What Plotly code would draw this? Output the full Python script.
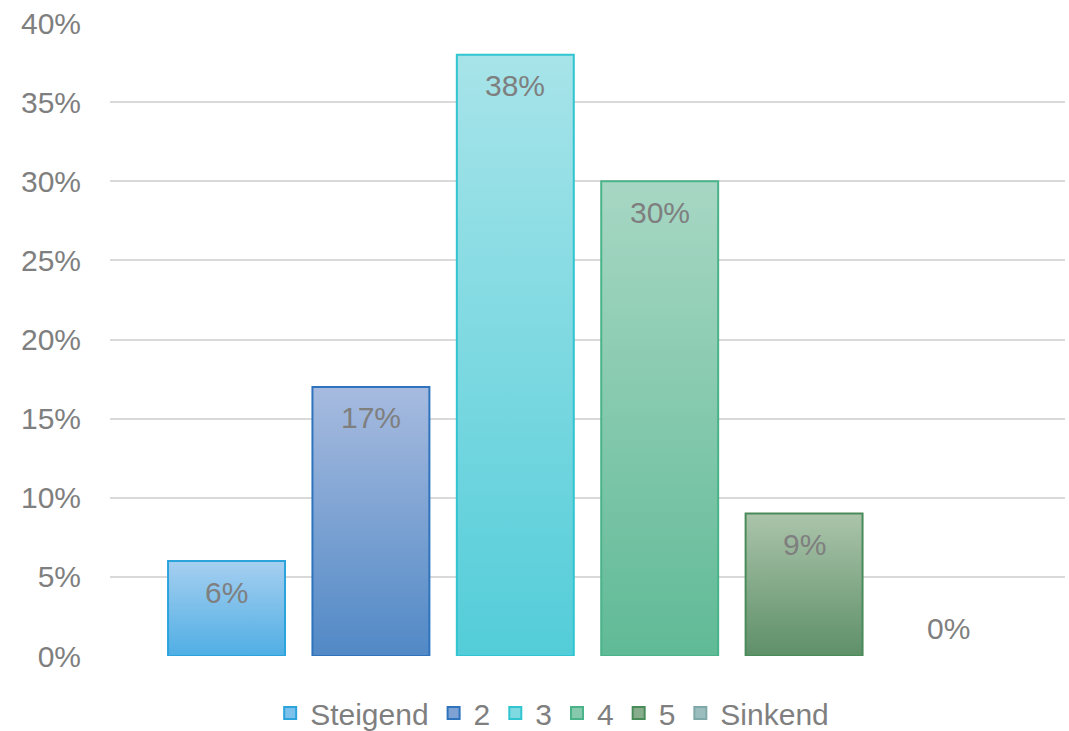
import plotly.graph_objects as go

# Survey answer distribution, scale from "Steigend" (rising) to "Sinkend" (falling)
series_names = ["Steigend", "2", "3", "4", "5", "Sinkend"]
shares_pct = [6, 17, 38, 30, 9, 0]

# gradient colours per series: (top, bottom, outline)
top_colors = ["#a6cff0", "#a7bbdf", "#a7e4e9", "#a7d7c4", "#abc4ab", "#b5cfcf"]
bottom_colors = ["#4faee4", "#5189c6", "#53cdd9", "#60ba96", "#5e9068", "#7fa8a8"]
legend_colors = ["#7cc0ec", "#7fa2d4", "#7fd9e1", "#86c9ad", "#88ad8c", "#9cbdbd"]
edge_colors = ["#2ba4dc", "#2e73bc", "#30c5d0", "#4bb389", "#4a8b5a", "#7fa8a8"]

y_ticks = [0, 5, 10, 15, 20, 25, 30, 35, 40]
y_tick_labels = [f"{t}%" for t in y_ticks]

FONT = "Liberation Sans"
GRAY = "#7f7f7f"
BAR_HALF = 0.405

fig = go.Figure()

for i, (name, v) in enumerate(zip(series_names, shares_pct)):
    x0, x1 = i - BAR_HALF, i + BAR_HALF
    # bar body drawn as a filled polygon so it can carry a vertical gradient
    if v > 0:
        fig.add_trace(go.Scatter(
            x=[x0, x0, x1, x1, x0],
            y=[0, v, v, 0, 0],
            mode="lines",
            fill="toself",
            fillgradient=dict(type="vertical",
                              colorscale=[[0, bottom_colors[i]], [1, top_colors[i]]]),
            line=dict(color=edge_colors[i], width=2),
            hoverinfo="skip",
            showlegend=False,
        ))
    # legend entry
    fig.add_trace(go.Bar(
        x=[None], y=[None], name=name,
        marker=dict(color=legend_colors[i],
                    line=dict(color=edge_colors[i], width=2)),
        showlegend=True,
    ))
    # value label
    fig.add_annotation(
        x=i, y=v, text=f"{v}%", showarrow=False,
        yanchor="middle", yshift=-31 if v > 0 else 28,
        font=dict(family=FONT, size=30, color=GRAY),
    )

fig.update_layout(
    width=1069, height=731,
    margin=dict(l=110, r=4, t=23, b=75, autoexpand=False),
    paper_bgcolor="white", plot_bgcolor="white",
    font=dict(family=FONT, size=30, color=GRAY),
    showlegend=True,
    legend=dict(orientation="h", x=0.463, xanchor="center", y=-0.09, yanchor="middle",
                font=dict(family=FONT, size=30, color=GRAY),
                itemwidth=30, tracegroupgap=0, traceorder="normal"),
    xaxis=dict(range=[-0.807, 5.807], showgrid=False, zeroline=False,
               showticklabels=False, ticks="", showline=False, fixedrange=True),
    yaxis=dict(range=[0, 40], tickmode="array", tickvals=y_ticks, ticktext=y_tick_labels,
               showgrid=True, gridcolor="#d9d9d9", gridwidth=2,
               zeroline=False, showline=False, ticks="",
               ticklabelstandoff=28,
               tickfont=dict(family=FONT, size=30, color=GRAY)),
)

fig.write_html("out.html")
